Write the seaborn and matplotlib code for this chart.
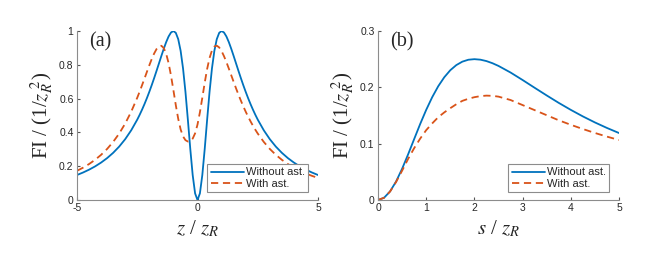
import numpy as np
import pandas as pd
import seaborn as sns
import matplotlib
matplotlib.use('Agg')
import matplotlib.pyplot as plt

# (a) FI vs z / zR  -- coarse tails, finer sampling round the peaks
z_left = [-5, -4.75, -4.5, -4.25, -4, -3.75, -3.5, -3.25, -3, -2.75]
z_mid = list(np.round(np.arange(-2.5, 2.51, 0.1), 2))
z_right = [2.75, 3, 3.25, 3.5, 3.75, 4, 4.25, 4.5, 4.75, 5]
z = z_left + z_mid + z_right

fi_a_without = (
    [0.1479, 0.1626, 0.1794, 0.1988, 0.2215, 0.2479, 0.2791, 0.3160, 0.3600, 0.4126]
    + [0.4756, 0.5042, 0.5348, 0.5676, 0.6027, 0.6400, 0.6795, 0.7209, 0.7639, 0.8080,
       0.8521, 0.8948, 0.9342, 0.9675, 0.9910, 1.0000, 0.9890, 0.9518, 0.8828, 0.7785,
       0.6400, 0.4756, 0.3030, 0.1479, 0.0392, 0.0000, 0.0392, 0.1479, 0.3030, 0.4756,
       0.6400, 0.7785, 0.8828, 0.9518, 0.9890, 1.0000, 0.9910, 0.9675, 0.9342, 0.8948,
       0.8521, 0.8080, 0.7639, 0.7209, 0.6795, 0.6400, 0.6027, 0.5676, 0.5348, 0.5042,
       0.4756]
    + [0.4126, 0.3600, 0.3160, 0.2791, 0.2479, 0.2215, 0.1988, 0.1794, 0.1626, 0.1479]
)
fi_a_with = (
    [0.1727, 0.1912, 0.2127, 0.2378, 0.2673, 0.3022, 0.3437, 0.3932, 0.4523, 0.5227]
    + [0.6053, 0.6416, 0.6795, 0.7185, 0.7580, 0.7969, 0.8338, 0.8666, 0.8930, 0.9096,
       0.9128, 0.8990, 0.8652, 0.8104, 0.7366, 0.6502, 0.5610, 0.4804, 0.4176, 0.3762,
       0.3541, 0.3460, 0.3486, 0.3631, 0.3942, 0.4464, 0.5190, 0.6053, 0.6945, 0.7756,
       0.8404, 0.8847, 0.9082, 0.9131, 0.9027, 0.8808, 0.8508, 0.8157, 0.7776, 0.7382,
       0.6989, 0.6604, 0.6232, 0.5878, 0.5543, 0.5227, 0.4931, 0.4655, 0.4396, 0.4156,
       0.3932]
    + [0.3437, 0.3022, 0.2673, 0.2378, 0.2127, 0.1912, 0.1727, 0.1567, 0.1428, 0.1306]
)

# (b) FI vs s / zR
s = [0, 0.125, 0.25, 0.375, 0.5, 0.625, 0.75, 0.875, 1.0, 1.125, 1.25, 1.375, 1.5,
     1.625, 1.75, 1.875, 2.0, 2.125, 2.25, 2.375, 2.5, 2.75, 3.0, 3.25, 3.5, 3.75,
     4.0, 4.25, 4.5, 4.75, 5.0]
fi_b_without = [0.0, 0.0039, 0.0152, 0.0328, 0.0554, 0.0811, 0.1081, 0.1349, 0.1600,
                0.1826, 0.2020, 0.2179, 0.2304, 0.2395, 0.2456, 0.2490, 0.2500, 0.2491,
                0.2466, 0.2428, 0.2380, 0.2263, 0.2130, 0.1992, 0.1856, 0.1724, 0.1600,
                0.1484, 0.1377, 0.1279, 0.1189]
fi_b_with = [0.0, 0.0039, 0.0150, 0.0320, 0.0520, 0.0730, 0.0920, 0.1090, 0.1240,
             0.1360, 0.1470, 0.1555, 0.1630, 0.1700, 0.1760, 0.1797, 0.1825, 0.1844,
             0.1853, 0.1849, 0.1835, 0.1775, 0.1685, 0.1595, 0.1505, 0.1415, 0.1335,
             0.1260, 0.1190, 0.1125, 0.1065]

labels = ['Without ast.', 'With ast.']
blue = '#0072BD'
red = '#D95319'

sns.set_style('ticks')
plt.rcParams['font.family'] = ['Liberation Sans', 'DejaVu Sans']
plt.rcParams['mathtext.fontset'] = 'stix'
plt.rcParams['xtick.direction'] = 'in'
plt.rcParams['ytick.direction'] = 'in'

fig = plt.figure(figsize=(6.64, 2.67), dpi=100)
ax_a = fig.add_axes([77/664, 67/267, 241/664, 169/267])
ax_b = fig.add_axes([378/664, 67/267, 241/664, 169/267])

panels = [
    (ax_a, z, fi_a_without, fi_a_with, (-5, 5), (0, 1), [-5, 0, 5],
     [0, 0.2, 0.4, 0.6, 0.8, 1], ['0', '0.2', '0.4', '0.6', '0.8', '1'], r'$z$ / $z_R$', '(a)'),
    (ax_b, s, fi_b_without, fi_b_with, (0, 5), (0, 0.3), [0, 1, 2, 3, 4, 5],
     [0, 0.1, 0.2, 0.3], ['0', '0.1', '0.2', '0.3'], r'$s$ / $z_R$', '(b)'),
]

for ax, x, y1, y2, xl, yl, xt, yt, ytl, xlab, tag in panels:
    df = pd.DataFrame({'x': list(x) * 2,
                       'y': list(y1) + list(y2),
                       'kind': [labels[0]] * len(x) + [labels[1]] * len(x)})
    sns.lineplot(data=df[df.kind == labels[0]], x='x', y='y', ax=ax, color=blue,
                 linewidth=1.3, label=labels[0])
    sns.lineplot(data=df[df.kind == labels[1]], x='x', y='y', ax=ax, color=red,
                 linewidth=1.3, linestyle='--', label=labels[1])
    ax.lines[1].set_dashes([4, 2.6])
    ax.set_xlim(*xl)
    ax.set_ylim(*yl)
    ax.set_xticks(xt)
    ax.set_xticklabels([str(v) for v in xt])
    ax.set_yticks(yt)
    ax.set_yticklabels(ytl)
    for sp in ['top', 'right']:
        ax.spines[sp].set_visible(False)
    for sp in ['left', 'bottom']:
        ax.spines[sp].set_color('#8c8c8c')
        ax.spines[sp].set_linewidth(0.8)
    ax.tick_params(length=2.5, width=0.8, color='#555555', labelsize=7.5,
                   labelcolor='#262626', pad=2.5)
    ax.set_xlabel(xlab, fontsize=15, family='Liberation Serif', labelpad=4)
    ax.set_ylabel(r'FI / (1/$z_R^{\ 2}$)', fontsize=15, family='Liberation Serif', labelpad=3)
    ax.text(0.05, 0.99, tag, transform=ax.transAxes, fontsize=14.5,
            family='Liberation Serif', va='top', ha='left')
    leg = ax.legend(loc='lower right', bbox_to_anchor=(0.958, 0.045), borderaxespad=0,
                    fontsize=8, frameon=True, fancybox=False, framealpha=1,
                    edgecolor='#8c8c8c', handlelength=3.0, handletextpad=0.15,
                    borderpad=0.3, labelspacing=0.15)
    leg.get_frame().set_linewidth(0.8)

fig.savefig('out.png', dpi=100)
